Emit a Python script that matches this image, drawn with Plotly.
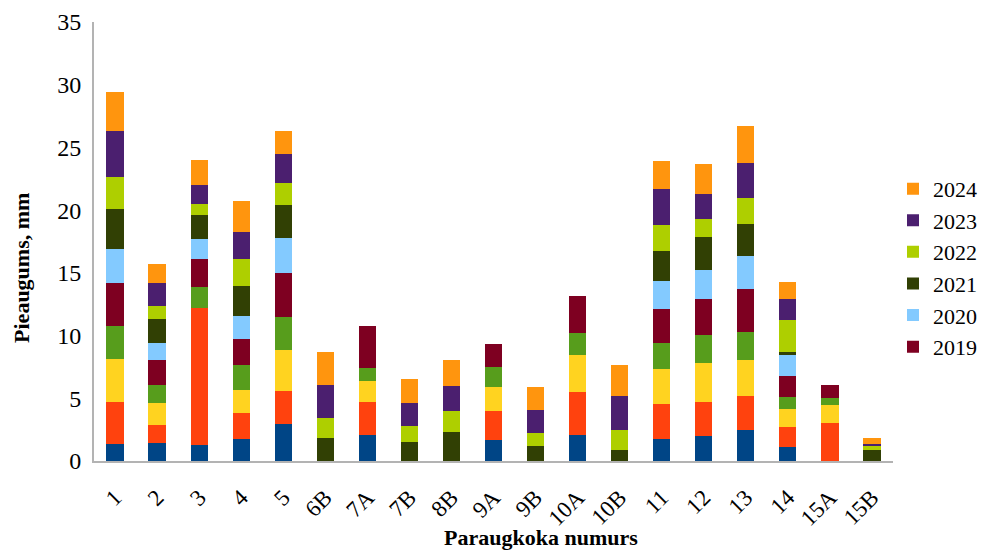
import plotly.graph_objects as go

categories = ["1", "2", "3", "4", "5", "6B", "7A", "7B", "8B", "9A", "9B",
              "10A", "10B", "11", "12", "13", "14", "15A", "15B"]

y2015 = [1.36, 1.44, 1.28, 1.76, 2.95, 0, 2.08, 0, 0, 1.68, 0, 2.08, 0, 1.76, 2.00, 2.48, 1.12, 0, 0]
y2016 = [3.35, 1.43, 10.94, 2.07, 2.64, 0, 2.63, 0, 0, 2.31, 0, 3.43, 0, 2.79, 2.71, 2.71, 1.59, 3.03, 0]
y2017 = [3.43, 1.76, 0, 1.84, 3.27, 0, 1.68, 0, 0, 1.92, 0, 2.95, 0, 2.80, 3.12, 2.87, 1.44, 1.44, 0]
y2018 = [2.64, 1.44, 1.67, 2.00, 2.64, 0, 1.04, 0, 0, 1.60, 0, 1.76, 0, 2.07, 2.23, 2.24, 0.96, 0.56, 0]
y2019 = [3.43, 1.99, 2.24, 2.07, 3.51, 0, 3.35, 0, 0, 1.83, 0, 2.96, 0, 2.72, 2.88, 3.43, 1.68, 1.04, 0]
y2020 = [2.72, 1.36, 1.60, 1.84, 2.80, 0, 0, 0, 0, 0, 0, 0, 0, 2.23, 2.31, 2.64, 1.67, 0, 0]
y2021 = [3.19, 1.92, 1.91, 2.39, 2.63, 1.84, 0, 1.52, 2.32, 0, 1.20, 0, 0.88, 2.40, 2.64, 2.55, 0.24, 0, 0.88]
y2022 = [2.56, 1.04, 0.88, 2.16, 1.76, 1.59, 0, 1.27, 1.67, 0, 1.04, 0, 1.60, 2.07, 1.43, 2.08, 2.56, 0, 0.32]
y2023 = [3.67, 1.83, 1.52, 2.16, 2.31, 2.64, 0, 1.84, 2.00, 0, 1.83, 0, 2.71, 2.88, 2.00, 2.72, 1.68, 0, 0.16]
y2024 = [3.04, 1.52, 1.99, 2.47, 1.84, 2.63, 0, 1.92, 2.07, 0, 1.84, 0, 2.48, 2.23, 2.32, 2.95, 1.35, 0, 0.48]

years = ["2015", "2016", "2017", "2018", "2019", "2020", "2021", "2022", "2023", "2024"]
series = [y2015, y2016, y2017, y2018, y2019, y2020, y2021, y2022, y2023, y2024]
colors = ["#004586", "#ff420e", "#ffd320", "#579d1c", "#7e0021",
          "#83caff", "#314004", "#aecf00", "#4b1f6f", "#ff950e"]
in_legend = [False, False, False, False, True, True, True, True, True, True]

SERIF = "Times New Roman"

fig = go.Figure()
for name, vals, col, leg in zip(years, series, colors, in_legend):
    fig.add_trace(go.Bar(x=categories, y=vals, name=name, marker_color=col,
                         marker_line_width=0, showlegend=leg))

fig.update_layout(
    barmode="stack",
    bargap=0.59,
    width=987, height=550,
    margin=dict(l=94, r=94, t=22, b=89, autoexpand=False),
    plot_bgcolor="white", paper_bgcolor="white",
    font=dict(family=SERIF, color="black", size=22),
    legend=dict(traceorder="reversed", x=1.0, xanchor="left", y=0.44, yanchor="middle",
                font=dict(family=SERIF, size=22), itemwidth=30, tracegroupgap=0),
    xaxis=dict(showline=True, linecolor="#b3b3b3", linewidth=2, tickangle=-45,
               tickfont=dict(family=SERIF, size=23), ticks="", ticklabelstandoff=12),
    yaxis=dict(range=[0, 35], dtick=5, showline=True, linecolor="#b3b3b3", linewidth=2,
               showgrid=False, zeroline=False, ticks="",
               tickfont=dict(family=SERIF, size=24), ticklabelstandoff=6),
    annotations=[
        dict(text="<b>Paraugkoka numurs</b>", xref="paper", yref="paper",
             x=0.559, y=-0.175, xanchor="center", yanchor="middle", showarrow=False,
             font=dict(family=SERIF, size=22)),
        dict(text="<b>Pieaugums, mm</b>", xref="paper", yref="paper",
             x=-0.09, xanchor="center", y=0.44, yanchor="middle", textangle=-90,
             showarrow=False, font=dict(family=SERIF, size=22)),
    ],
)

fig.write_html("out.html")
